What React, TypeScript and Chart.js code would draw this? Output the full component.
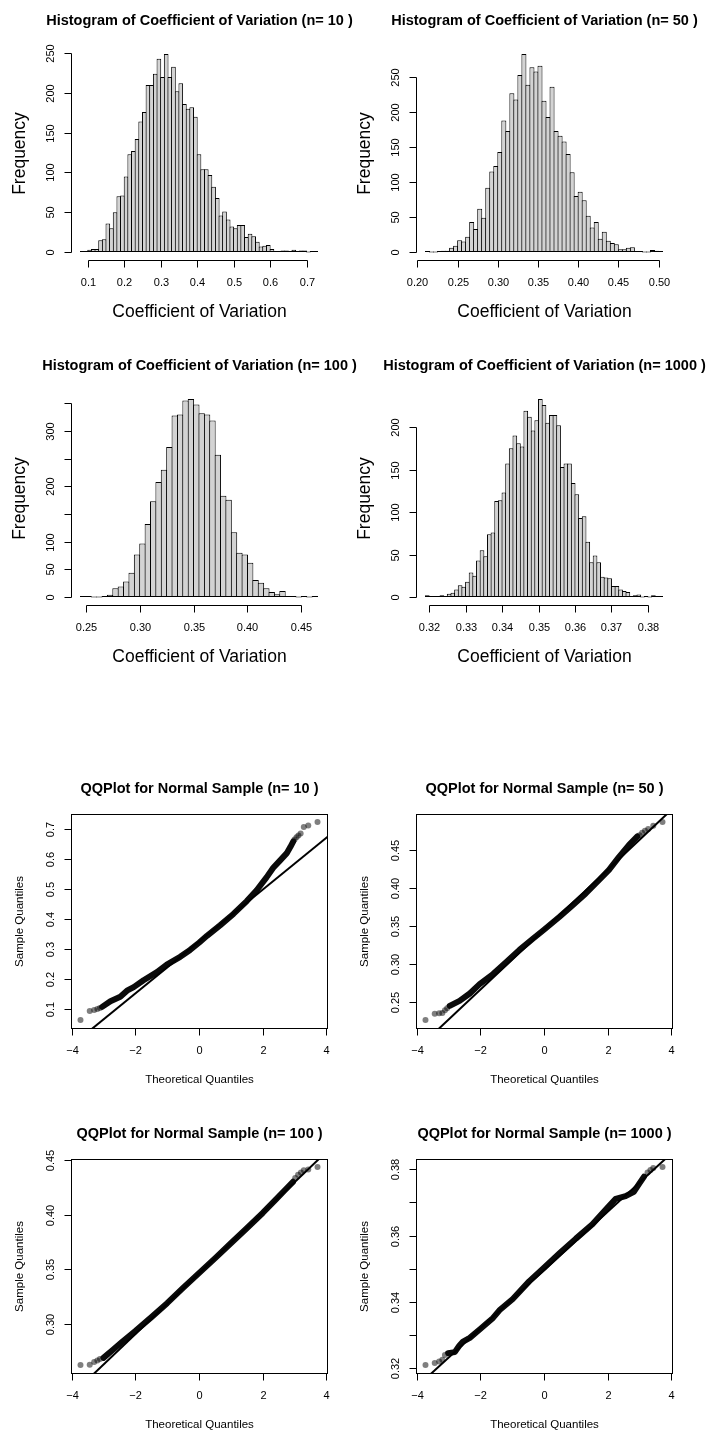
import React, { useEffect, useRef } from "react";
import { Chart, registerables } from "chart.js";

Chart.register(...registerables);

const FONT = '"Liberation Sans", Arial, Helvetica, sans-serif';

// ---------------- Histogram data (bin start, bin width, counts) ----------------
const hist10BinStart = 0.08;
const hist10BinWidth = 0.01;
const hist10Counts = [
  1, 1, 3, 4, 4, 15, 16, 36, 30, 50,
  70, 71, 95, 123, 127, 142, 164, 176, 210, 210,
  224, 243, 220, 249, 220, 233, 202, 212, 186, 180,
  182, 170, 123, 104, 104, 97, 82, 68, 46, 51,
  41, 32, 30, 34, 34, 19, 23, 20, 13, 7,
  8, 9, 4, 1, 1, 2, 2, 1, 3, 1,
  2, 2, 0, 1, 1,
];
const hist10XTicks = [0.1, 0.2, 0.3, 0.4, 0.5, 0.6, 0.7];
const hist10XLabels = ["0.1", "0.2", "0.3", "0.4", "0.5", "0.6", "0.7"];
const hist10YTicks = [0, 50, 100, 150, 200, 250];
const hist10YLabels = ["0", "50", "100", "150", "200", "250"];

const hist50BinStart = 0.21;
const hist50BinWidth = 0.005;
const hist50Counts = [
  1, 0, 0, 1, 2, 2, 6, 9, 17, 15,
  22, 43, 33, 62, 49, 92, 115, 123, 143, 188,
  173, 227, 218, 253, 283, 239, 264, 258, 266, 216,
  193, 236, 173, 166, 158, 140, 114, 80, 86, 74,
  52, 35, 43, 19, 29, 16, 13, 11, 4, 4,
  6, 7, 1, 1, 0, 0, 3, 2, 1,
];
const hist50XTicks = [0.2, 0.25, 0.3, 0.35, 0.4, 0.45, 0.5];
const hist50XLabels = ["0.20", "0.25", "0.30", "0.35", "0.40", "0.45", "0.50"];
const hist50YTicks = [0, 50, 100, 150, 200, 250];
const hist50YLabels = ["0", "50", "100", "150", "200", "250"];

const hist100BinStart = 0.245;
const hist100BinWidth = 0.005;
const hist100Counts = [
  1, 1, 0, 0, 2, 4, 16, 19, 28, 44,
  77, 97, 132, 173, 208, 230, 271, 328, 330, 355,
  358, 348, 332, 330, 319, 257, 183, 176, 117, 80,
  77, 62, 31, 26, 16, 9, 5, 11, 1, 1,
  0, 1, 0, 1,
];
const hist100XTicks = [0.25, 0.3, 0.35, 0.4, 0.45];
const hist100XLabels = ["0.25", "0.30", "0.35", "0.40", "0.45"];
const hist100YTicks = [0, 50, 100, 150, 200, 250, 300, 350];
const hist100YLabels = ["0", "50", "100", "", "200", "", "300", ""];

const hist1000BinStart = 0.319;
const hist1000BinWidth = 0.001;
const hist1000Counts = [
  2, 1, 1, 1, 2, 1, 4, 5, 9, 14,
  12, 18, 29, 25, 43, 55, 48, 74, 76, 113,
  114, 123, 157, 175, 190, 181, 177, 219, 212, 196,
  208, 233, 226, 205, 214, 214, 202, 153, 157, 157,
  134, 121, 93, 95, 65, 41, 49, 41, 24, 23,
  22, 13, 13, 9, 7, 6, 1, 2, 3, 0,
  1, 0, 2, 1, 1,
];
const hist1000XTicks = [0.32, 0.33, 0.34, 0.35, 0.36, 0.37, 0.38];
const hist1000XLabels = ["0.32", "0.33", "0.34", "0.35", "0.36", "0.37", "0.38"];
const hist1000YTicks = [0, 50, 100, 150, 200];
const hist1000YLabels = ["0", "50", "100", "150", "200"];

// ---------------- QQ data: [theoretical, sample] ----------------
const qqXTicks = [-4, -2, 0, 2, 4];
const qqXLabels = ["\u22124", "\u22122", "0", "2", "4"];

const qq10Band = [
  [-3.04, 0.106], [-2.78, 0.125], [-2.47, 0.14], [-2.26, 0.16], [-2.05, 0.172],
  [-1.74, 0.195], [-1.32, 0.222], [-1.01, 0.247], [-0.59, 0.273], [-0.28, 0.296],
  [0, 0.32], [0.25, 0.343], [0.66, 0.378], [1.08, 0.416], [1.5, 0.459],
  [1.81, 0.495], [2.12, 0.538], [2.33, 0.57], [2.54, 0.594], [2.75, 0.618],
  [2.87, 0.64], [2.96, 0.658],
];
const qq10Tails = [
  [-3.72, 0.062], [-3.43, 0.092], [-3.29, 0.096], [-3.19, 0.099], [-3.11, 0.102],
  [3.0, 0.664], [3.06, 0.672], [3.12, 0.678], [3.19, 0.684], [3.29, 0.706],
  [3.43, 0.711], [3.72, 0.723],
];
const qq10Line = [[-4.5, -0.0659], [4.5, 0.7135]];
const qq10YTicks = [0.1, 0.2, 0.3, 0.4, 0.5, 0.6, 0.7];
const qq10YLabels = ["0.1", "0.2", "0.3", "0.4", "0.5", "0.6", "0.7"];

const qq50Band = [
  [-2.96, 0.2447], [-2.65, 0.2513], [-2.33, 0.2611], [-2.02, 0.2735], [-1.6, 0.2868],
  [-1.19, 0.3023], [-0.77, 0.3187], [-0.35, 0.3334], [0, 0.3453], [0.48, 0.3622],
  [0.9, 0.3777], [1.31, 0.3932], [1.73, 0.411], [2.04, 0.4243], [2.35, 0.4411],
  [2.67, 0.4575], [2.93, 0.4686],
];
const qq50Tails = [
  [-3.72, 0.226], [-3.43, 0.2345], [-3.29, 0.235], [-3.19, 0.2355], [-3.11, 0.239],
  [-3.04, 0.2415], [3.0, 0.47], [3.08, 0.4735], [3.17, 0.476], [3.27, 0.4785],
  [3.43, 0.4825], [3.72, 0.4877],
];
const qq50Line = [[-4.5, 0.1671], [4.5, 0.5235]];
const qq50YTicks = [0.25, 0.3, 0.35, 0.4, 0.45];
const qq50YLabels = ["0.25", "0.30", "0.35", "0.40", "0.45"];

const qq100Band = [
  [-3.0, 0.269], [-2.7, 0.2765], [-2.4, 0.284], [-2.0, 0.2935], [-1.5, 0.306],
  [-1.0, 0.319], [-0.5, 0.333], [0, 0.3465], [0.5, 0.36], [1.0, 0.3738],
  [1.5, 0.3875], [2.0, 0.4015], [2.4, 0.4135], [2.7, 0.4225], [2.95, 0.43],
];
const qq100Tails = [
  [-3.72, 0.2624], [-3.43, 0.2628], [-3.29, 0.2652], [-3.19, 0.2665], [-3.11, 0.268],
  [3.02, 0.4335], [3.11, 0.4365], [3.2, 0.4385], [3.29, 0.4405], [3.43, 0.4413],
  [3.72, 0.4436],
];
const qq100Line = [[-4.5, 0.2211], [4.5, 0.4713]];
const qq100YTicks = [0.3, 0.35, 0.4, 0.45];
const qq100YLabels = ["0.30", "0.35", "0.40", "0.45"];

const qq1000Band = [
  [-3.01, 0.3246], [-2.8, 0.3249], [-2.66, 0.3268], [-2.54, 0.3281], [-2.33, 0.3292],
  [-2.02, 0.3317], [-1.6, 0.3352], [-1.4, 0.3375], [-0.98, 0.3409], [-0.46, 0.3463],
  [0, 0.3503], [0.48, 0.3546], [1.0, 0.3591], [1.52, 0.3634], [1.94, 0.3679],
  [2.25, 0.3711], [2.56, 0.3719], [2.82, 0.3732], [2.98, 0.3755], [3.14, 0.3778],
];
const qq1000Tails = [
  [-3.72, 0.321], [-3.43, 0.3216], [-3.29, 0.3221], [-3.19, 0.3226], [-3.11, 0.324],
  [3.25, 0.379], [3.34, 0.3798], [3.43, 0.3804], [3.72, 0.3807],
];
const qq1000Line = [[-4.5, 0.31], [4.5, 0.3892]];
const qq1000YTicks = [0.32, 0.33, 0.34, 0.35, 0.36, 0.37, 0.38];
const qq1000YLabels = ["0.32", "", "0.34", "", "0.36", "", "0.38"];

// ---------------- layout ----------------
const CANVAS_W = 361;
const CANVAS_H = 345;
const PAD = { left: 71, right: 34, top: 38, bottom: 93 };

type AxisSpec = {
  title: string;
  xLabel: string;
  yLabel: string;
  labelSize: number;
  xLabelOffset: number;
  yLabelOffset: number;
  box: boolean;
  xTicks: number[];
  xTickLabels: string[];
  yTicks: number[];
  yTickLabels: string[];
};

function makeAxesPlugin(spec: AxisSpec) {
  return {
    id: "rStyleAxes",
    afterDraw(chart: any) {
      const { ctx, chartArea: a, scales } = chart;
      const xs = scales.x;
      const ys = scales.y;
      const L = Math.round(a.left) + 0.5;
      const R = Math.round(a.right) + 0.5;
      const T = Math.round(a.top) + 0.5;
      const B = Math.round(a.bottom) + 0.5;
      ctx.save();
      ctx.strokeStyle = "#000";
      ctx.fillStyle = "#000";
      ctx.lineWidth = 1;
      if (spec.box) ctx.strokeRect(L, T, R - L, B - T);

      // x axis
      const xp = spec.xTicks.map((v) => Math.round(xs.getPixelForValue(v)) + 0.5);
      ctx.beginPath();
      ctx.moveTo(xp[0], B);
      ctx.lineTo(xp[xp.length - 1], B);
      xp.forEach((p) => {
        ctx.moveTo(p, B);
        ctx.lineTo(p, B + 7);
      });
      ctx.stroke();
      ctx.font = `11px ${FONT}`;
      ctx.textAlign = "center";
      ctx.textBaseline = "alphabetic";
      spec.xTickLabels.forEach((t, i) => {
        if (t) ctx.fillText(t, xp[i], B + 25);
      });

      // y axis
      const yp = spec.yTicks.map((v) => Math.round(ys.getPixelForValue(v)) + 0.5);
      ctx.beginPath();
      ctx.moveTo(L, yp[0]);
      ctx.lineTo(L, yp[yp.length - 1]);
      yp.forEach((p) => {
        ctx.moveTo(L, p);
        ctx.lineTo(L - 7, p);
      });
      ctx.stroke();
      spec.yTickLabels.forEach((t, i) => {
        if (!t) return;
        ctx.save();
        ctx.translate(L - 18, yp[i]);
        ctx.rotate(-Math.PI / 2);
        ctx.fillText(t, 0, 0);
        ctx.restore();
      });

      // axis titles
      ctx.font = `${spec.labelSize}px ${FONT}`;
      ctx.fillText(spec.xLabel, (L + R) / 2, B + spec.xLabelOffset);
      ctx.save();
      ctx.translate(L - spec.yLabelOffset, (T + B) / 2);
      ctx.rotate(-Math.PI / 2);
      ctx.fillText(spec.yLabel, 0, 0);
      ctx.restore();

      // main title
      ctx.font = `bold 14.5px ${FONT}`;
      ctx.fillText(spec.title, (L + R) / 2, T - 21.5);
      ctx.restore();
    },
  };
}

type HistProps = {
  left: number;
  top: number;
  title: string;
  binStart: number;
  binWidth: number;
  counts: number[];
  xTicks: number[];
  xTickLabels: string[];
  yTicks: number[];
  yTickLabels: string[];
};

function HistPanel(p: HistProps) {
  const ref = useRef<HTMLCanvasElement | null>(null);
  useEffect(() => {
    if (!ref.current) return;
    const n = p.counts.length;
    const lo = p.binStart;
    const hi = p.binStart + n * p.binWidth;
    const xmin = lo - 0.04 * (hi - lo);
    const xmax = hi + 0.04 * (hi - lo);
    const ymax = Math.max(...p.counts);
    const areaW = CANVAS_W - PAD.left - PAD.right;
    const binPx = (p.binWidth * areaW) / (xmax - xmin);
    const data = p.counts.map((c, i) => ({ x: p.binStart + (i + 0.5) * p.binWidth, y: c }));
    const spec: AxisSpec = {
      title: p.title,
      xLabel: "Coefficient of Variation",
      yLabel: "Frequency",
      labelSize: 17.5,
      xLabelOffset: 56,
      yLabelOffset: 47,
      box: false,
      xTicks: p.xTicks,
      xTickLabels: p.xTickLabels,
      yTicks: p.yTicks,
      yTickLabels: p.yTickLabels,
    };
    const chart = new Chart(ref.current, {
      type: "bar",
      data: {
        datasets: [
          {
            data,
            backgroundColor: "#D3D3D3",
            borderColor: "#000000",
            borderWidth: 1,
            borderSkipped: false,
            barPercentage: 1 + 1 / binPx,
            categoryPercentage: 1,
            minBarLength: 1,
            inflateAmount: 0,
          } as any,
        ],
      },
      options: {
        responsive: false,
        animation: false,
        devicePixelRatio: 1,
        events: [],
        layout: { padding: PAD },
        plugins: { legend: { display: false }, tooltip: { enabled: false }, title: { display: false } },
        scales: {
          x: {
            type: "linear",
            display: false,
            offset: false,
            min: xmin,
            max: xmax,
            afterBuildTicks: (s: any) => {
              s.ticks = p.xTicks.map((v) => ({ value: v }));
            },
          },
          y: {
            type: "linear",
            display: false,
            min: -0.04 * ymax,
            max: 1.04 * ymax,
            afterBuildTicks: (s: any) => {
              s.ticks = p.yTicks.map((v) => ({ value: v }));
            },
          },
        },
      } as any,
      plugins: [makeAxesPlugin(spec)],
    });
    return () => chart.destroy();
  }, []);
  return (
    <canvas
      ref={ref}
      width={CANVAS_W}
      height={CANVAS_H}
      style={{ position: "absolute", left: p.left, top: p.top, width: CANVAS_W, height: CANVAS_H, display: "block" }}
    />
  );
}

type QQProps = {
  left: number;
  top: number;
  title: string;
  band: number[][];
  tails: number[][];
  line: number[][];
  yTicks: number[];
  yTickLabels: string[];
};

function QQPanel(p: QQProps) {
  const ref = useRef<HTMLCanvasElement | null>(null);
  useEffect(() => {
    if (!ref.current) return;
    const pts = [...p.band, ...p.tails];
    const xsV = pts.map((q) => q[0]);
    const ysV = pts.map((q) => q[1]);
    const x0 = Math.min(...xsV), x1 = Math.max(...xsV);
    const y0 = Math.min(...ysV), y1 = Math.max(...ysV);
    const spec: AxisSpec = {
      title: p.title,
      xLabel: "Theoretical Quantiles",
      yLabel: "Sample Quantiles",
      labelSize: 11.5,
      xLabelOffset: 54,
      yLabelOffset: 48.5,
      box: true,
      xTicks: qqXTicks,
      xTickLabels: qqXLabels,
      yTicks: p.yTicks,
      yTickLabels: p.yTickLabels,
    };
    const toXY = (arr: number[][]) => arr.map((q) => ({ x: q[0], y: q[1] }));
    const chart = new Chart(ref.current, {
      type: "scatter",
      data: {
        datasets: [
          {
            data: toXY(p.line),
            showLine: true,
            borderColor: "#000000",
            borderWidth: 2,
            pointRadius: 0,
            clip: 0,
          },
          {
            data: toXY(p.band),
            showLine: true,
            borderColor: "#0a0a0a",
            borderWidth: 6,
            borderCapStyle: "round",
            borderJoinStyle: "round",
            pointRadius: 0,
            tension: 0,
          },
          {
            data: toXY(p.tails),
            showLine: false,
            pointRadius: 3,
            pointBackgroundColor: "rgba(0,0,0,0.5)",
            pointBorderWidth: 0,
            pointBorderColor: "rgba(0,0,0,0)",
          },
        ] as any,
      },
      options: {
        responsive: false,
        animation: false,
        devicePixelRatio: 1,
        events: [],
        layout: { padding: PAD },
        plugins: { legend: { display: false }, tooltip: { enabled: false }, title: { display: false } },
        scales: {
          x: { type: "linear", display: false, min: x0 - 0.04 * (x1 - x0), max: x1 + 0.04 * (x1 - x0) },
          y: { type: "linear", display: false, min: y0 - 0.04 * (y1 - y0), max: y1 + 0.04 * (y1 - y0) },
        },
      } as any,
      plugins: [makeAxesPlugin(spec)],
    });
    return () => chart.destroy();
  }, []);
  return (
    <canvas
      ref={ref}
      width={CANVAS_W}
      height={CANVAS_H}
      style={{ position: "absolute", left: p.left, top: p.top, width: CANVAS_W, height: CANVAS_H, display: "block" }}
    />
  );
}

export default function App() {
  return (
    <div
      style={{
        position: "fixed",
        left: 0,
        top: 0,
        width: 706,
        height: 1431,
        overflow: "hidden",
        background: "#ffffff",
      }}
    >
      <HistPanel left={0} top={8} title="Histogram of Coefficient of Variation (n= 10 )"
        binStart={hist10BinStart} binWidth={hist10BinWidth} counts={hist10Counts}
        xTicks={hist10XTicks} xTickLabels={hist10XLabels} yTicks={hist10YTicks} yTickLabels={hist10YLabels} />
      <HistPanel left={345} top={8} title="Histogram of Coefficient of Variation (n= 50 )"
        binStart={hist50BinStart} binWidth={hist50BinWidth} counts={hist50Counts}
        xTicks={hist50XTicks} xTickLabels={hist50XLabels} yTicks={hist50YTicks} yTickLabels={hist50YLabels} />
      <HistPanel left={0} top={353} title="Histogram of Coefficient of Variation (n= 100 )"
        binStart={hist100BinStart} binWidth={hist100BinWidth} counts={hist100Counts}
        xTicks={hist100XTicks} xTickLabels={hist100XLabels} yTicks={hist100YTicks} yTickLabels={hist100YLabels} />
      <HistPanel left={345} top={353} title="Histogram of Coefficient of Variation (n= 1000 )"
        binStart={hist1000BinStart} binWidth={hist1000BinWidth} counts={hist1000Counts}
        xTicks={hist1000XTicks} xTickLabels={hist1000XLabels} yTicks={hist1000YTicks} yTickLabels={hist1000YLabels} />

      <QQPanel left={0} top={776} title="QQPlot for Normal Sample (n= 10 )"
        band={qq10Band} tails={qq10Tails} line={qq10Line} yTicks={qq10YTicks} yTickLabels={qq10YLabels} />
      <QQPanel left={345} top={776} title="QQPlot for Normal Sample (n= 50 )"
        band={qq50Band} tails={qq50Tails} line={qq50Line} yTicks={qq50YTicks} yTickLabels={qq50YLabels} />
      <QQPanel left={0} top={1121} title="QQPlot for Normal Sample (n= 100 )"
        band={qq100Band} tails={qq100Tails} line={qq100Line} yTicks={qq100YTicks} yTickLabels={qq100YLabels} />
      <QQPanel left={345} top={1121} title="QQPlot for Normal Sample (n= 1000 )"
        band={qq1000Band} tails={qq1000Tails} line={qq1000Line} yTicks={qq1000YTicks} yTickLabels={qq1000YLabels} />
    </div>
  );
}
